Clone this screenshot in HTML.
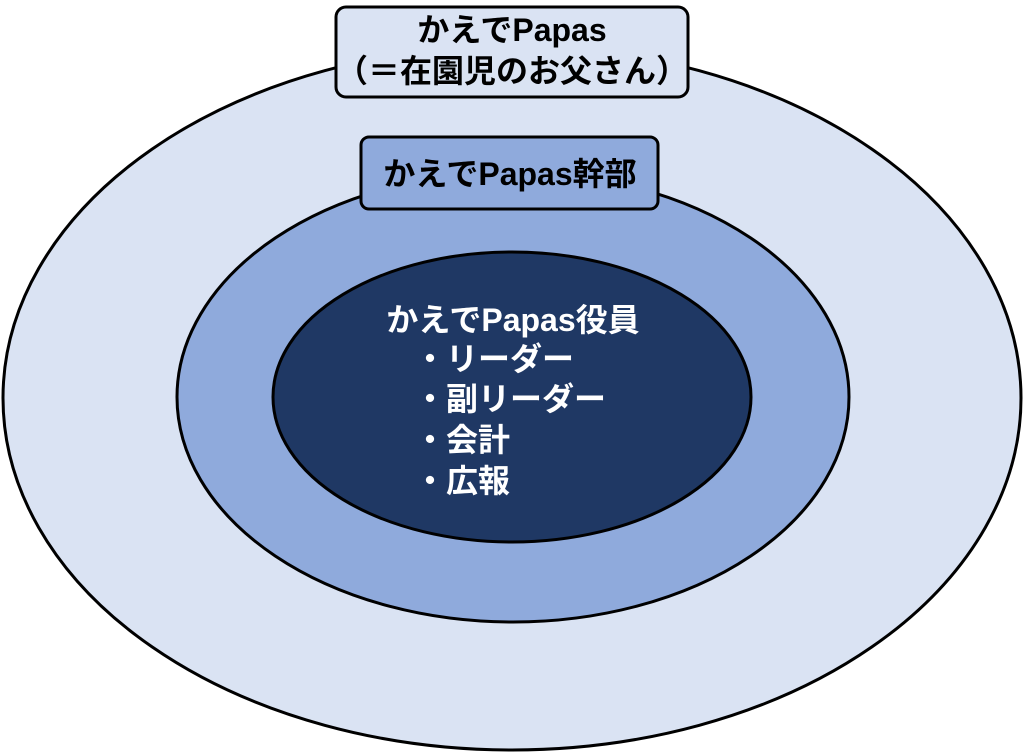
<!DOCTYPE html>
<html><head><meta charset="utf-8"><style>
html,body{margin:0;padding:0;background:#fff;}
svg{display:block;}
text{font-family:"Liberation Sans","Noto Sans CJK JP",sans-serif;font-weight:bold;font-size:32px;}
</style></head><body>
<svg width="1024" height="753" viewBox="0 0 1024 753" xmlns="http://www.w3.org/2000/svg">
<ellipse cx="512" cy="398" rx="509" ry="352" fill="#dae3f3" stroke="#000" stroke-width="3"/>
<ellipse cx="513" cy="397" rx="336" ry="225" fill="#8faadc" stroke="#000" stroke-width="3"/>
<ellipse cx="512" cy="397" rx="239" ry="145" fill="#1f3864" stroke="#000" stroke-width="3"/>
<rect x="336" y="7" width="352" height="90" rx="10" fill="#dae3f3" stroke="#000" stroke-width="3"/>
<rect x="361" y="137" width="297" height="72" rx="8" fill="#8faadc" stroke="#000" stroke-width="3"/>
<text x="512" y="41" text-anchor="middle" fill="#000">かえでPapas</text>
<text x="512" y="82" text-anchor="middle" fill="#000">（＝在園児のお父さん）</text>
<text x="510" y="185" text-anchor="middle" fill="#000">かえでPapas幹部</text>
<text x="513" y="331" text-anchor="middle" fill="#fff">かえでPapas役員</text>
<text x="414" y="370" fill="#fff">・リーダー</text>
<text x="414" y="410" fill="#fff">・副リーダー</text>
<text x="414" y="451" fill="#fff">・会計</text>
<text x="414" y="492" fill="#fff">・広報</text>
</svg>
</body></html>
